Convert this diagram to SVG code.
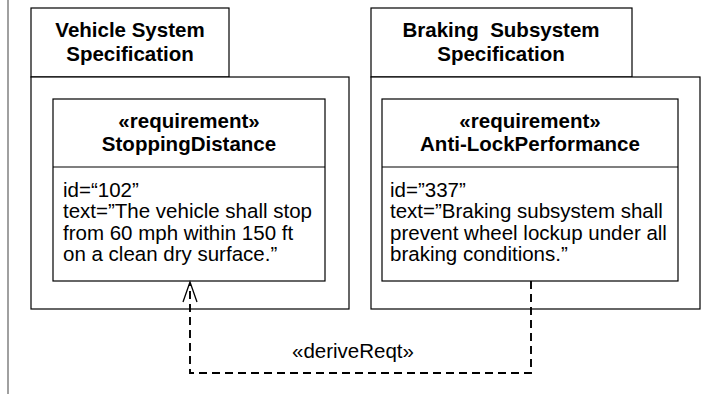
<svg xmlns="http://www.w3.org/2000/svg" width="714" height="396" viewBox="0 0 714 396">
<style>
.box{fill:#fff;stroke:#000;stroke-width:1.2}
.t{font-family:"Liberation Sans",Arial,sans-serif;font-size:20.5px;fill:#000}
.b{font-weight:bold;text-anchor:middle}
.dash{fill:none;stroke:#000;stroke-width:1.9;stroke-dasharray:8,5}
</style>
<rect width="714" height="396" fill="#fff"/>
<line x1="8" y1="0" x2="8" y2="394" stroke="#808080" stroke-width="1.5"/>
<g id="pkg-vehicle">
<rect class="box" x="31" y="8" width="198" height="69"/>
<rect class="box" x="31" y="77" width="318" height="232"/>
<text class="t b" x="130" y="37">Vehicle System</text>
<text class="t b" x="130" y="61">Specification</text>
</g>
<g id="req-stopping">
<rect class="box" x="53" y="99" width="272" height="182"/>
<line x1="53" y1="167" x2="325" y2="167" stroke="#000" stroke-width="1.2"/>
<text class="t b" x="189" y="128">«requirement»</text>
<text class="t b" x="189" y="151">StoppingDistance</text>
<text class="t" x="63" y="197">id=“102”</text>
<text class="t" x="63" y="218">text=”The vehicle shall stop</text>
<text class="t" x="63" y="240">from 60 mph within 150 ft</text>
<text class="t" x="63" y="261">on a clean dry surface.”</text>
</g>
<g id="pkg-braking">
<rect class="box" x="371" y="8" width="261" height="69"/>
<rect class="box" x="371" y="77" width="329" height="232"/>
<text class="t b" x="501" y="37" xml:space="preserve">Braking  Subsystem</text>
<text class="t b" x="501" y="61">Specification</text>
</g>
<g id="req-antilock">
<rect class="box" x="382" y="99" width="296" height="182"/>
<line x1="382" y1="167" x2="678" y2="167" stroke="#000" stroke-width="1.2"/>
<text class="t b" x="530" y="128">«requirement»</text>
<text class="t b" x="530" y="151">Anti-LockPerformance</text>
<text class="t" x="390" y="197">id=”337”</text>
<text class="t" x="390" y="218">text=”Braking subsystem shall</text>
<text class="t" x="390" y="240">prevent wheel lockup under all</text>
<text class="t" x="390" y="261">braking conditions.”</text>
</g>
<g id="connectors">
<polyline class="dash" points="531,281 531,373 190,373 190,283"/>
<polyline points="183,302 190,282 197,302" fill="none" stroke="#000" stroke-width="1.3"/>
<text class="t" x="353" y="358" text-anchor="middle">«deriveReqt»</text>
</g>
</svg>
